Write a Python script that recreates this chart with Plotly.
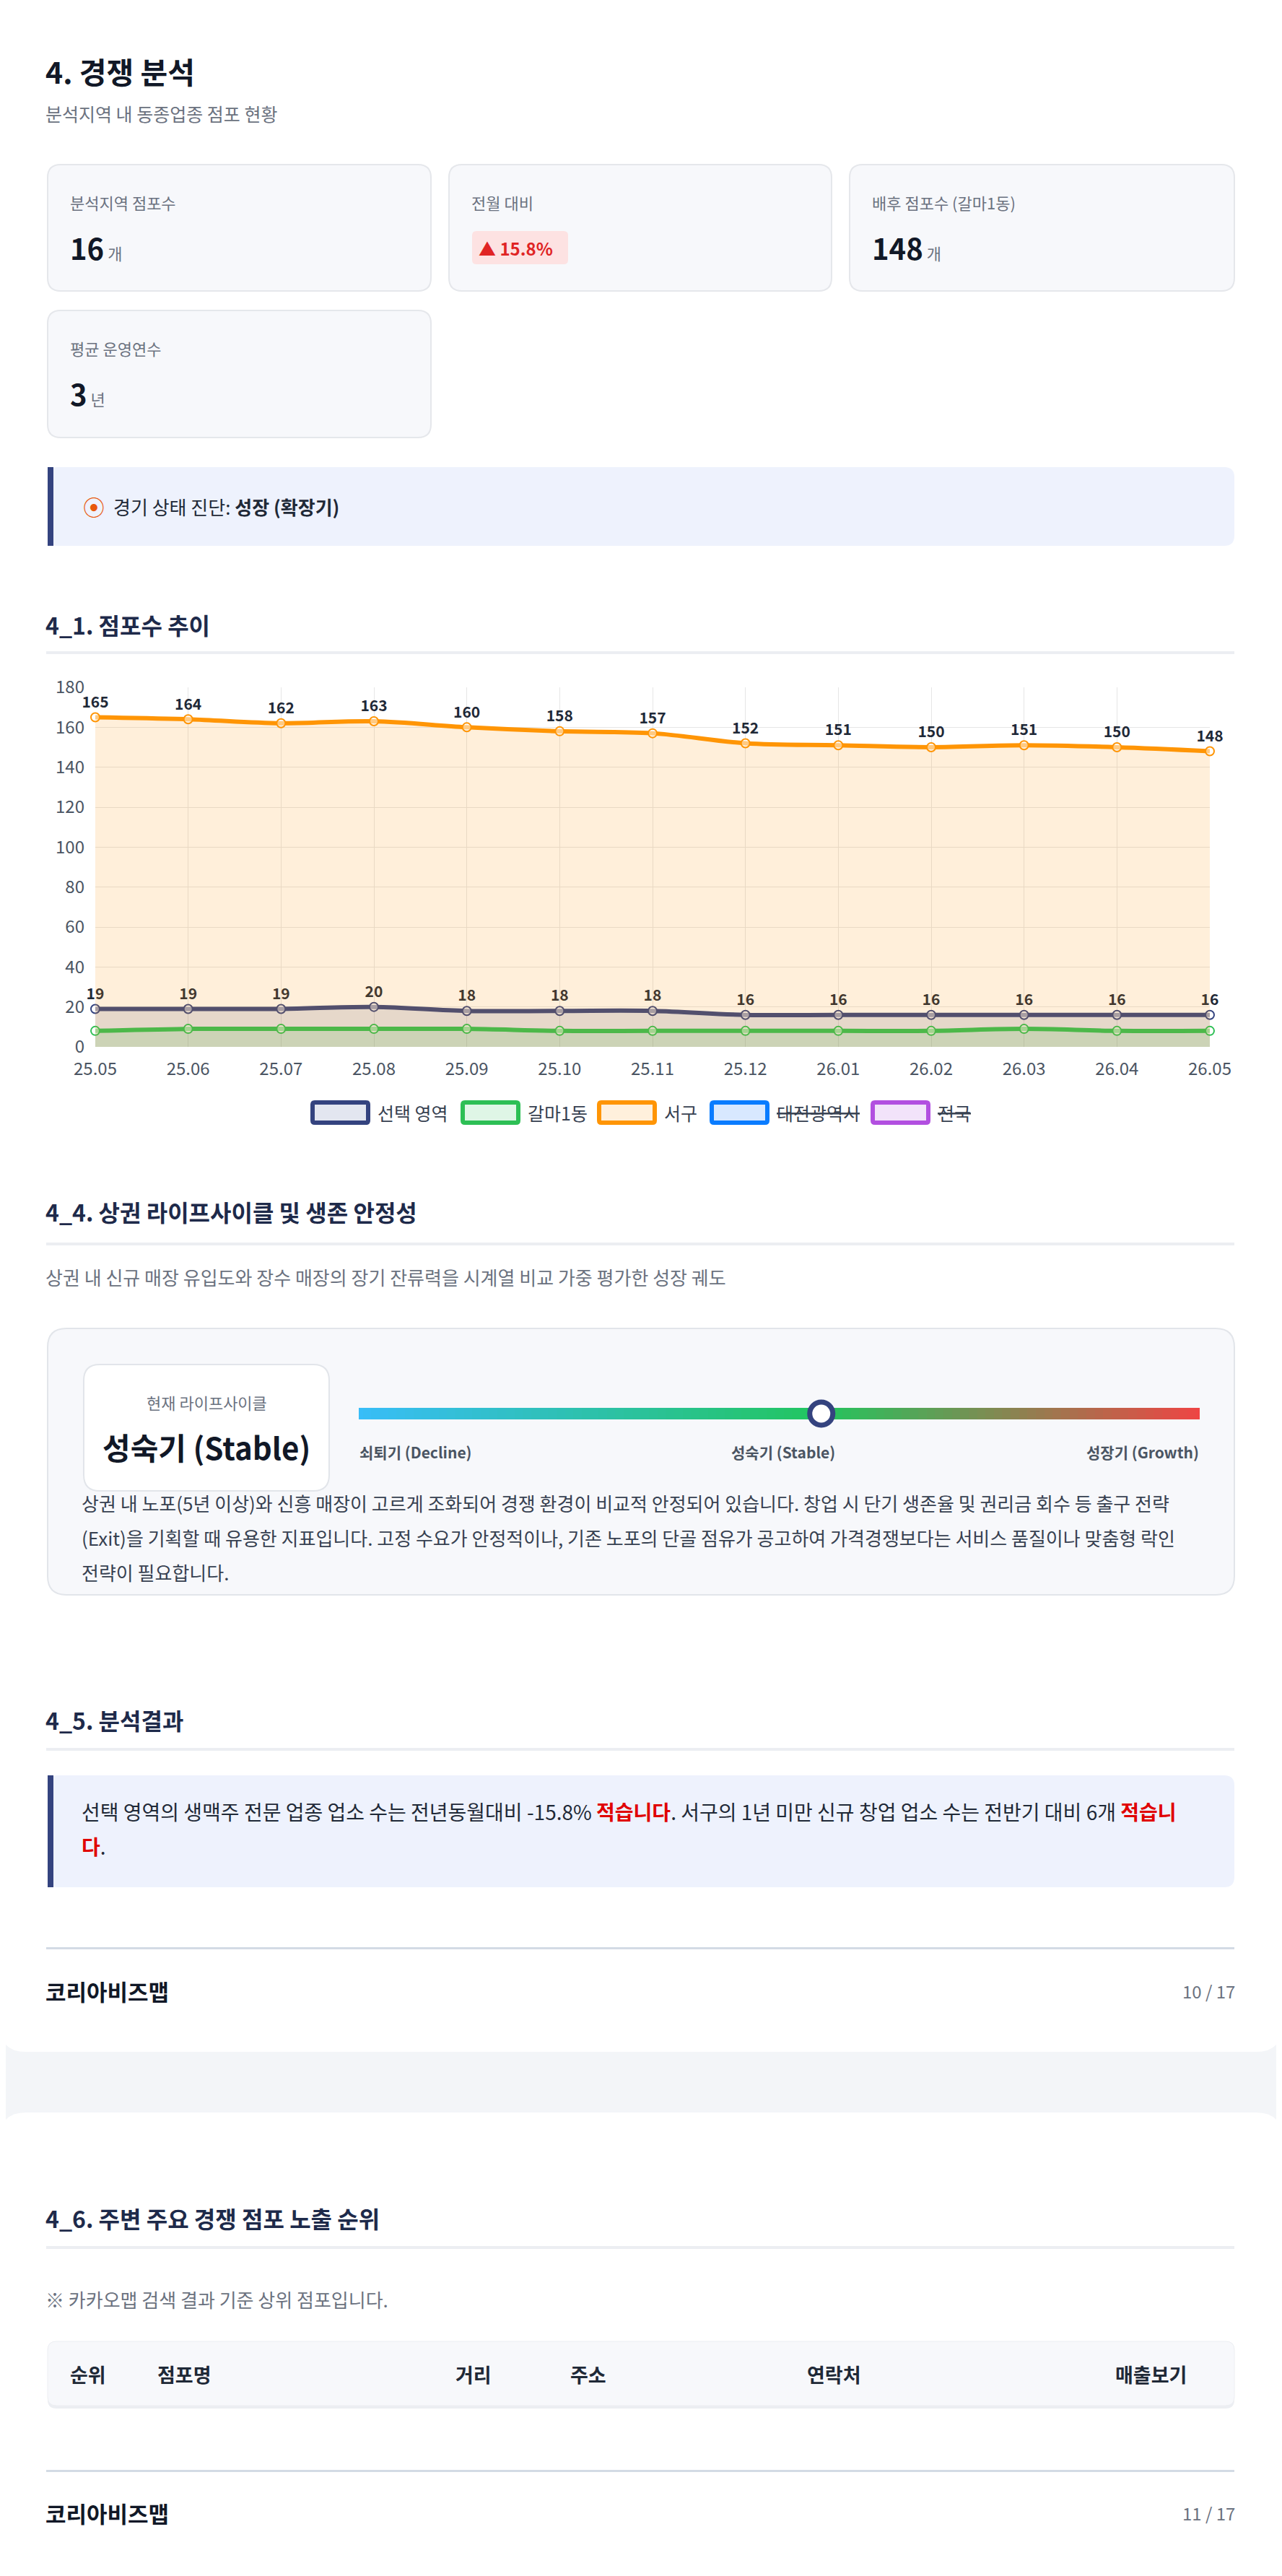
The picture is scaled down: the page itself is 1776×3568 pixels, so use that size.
import plotly.graph_objects as go

W, H = 1776, 3568
OFF = 8  # page body margin in the browser
FONT = "Noto Sans CJK KR"

# data
months = ["25.05", "25.06", "25.07", "25.08", "25.09", "25.10", "25.11",
          "25.12", "26.01", "26.02", "26.03", "26.04", "26.05"]
selected = [19, 19, 19, 20, 18, 18, 18, 16, 16, 16, 16, 16, 16]
galma1 = [8, 9, 9, 9, 9, 8, 8, 8, 8, 8, 9, 8, 8]
seogu = [165, 164, 162, 163, 160, 158, 157, 152, 151, 150, 151, 150, 148]
legend_names = ["선택 영역", "갈마1동", "서구", "대전광역시", "전국"]
legend_hidden = [False, False, False, True, True]
kpi_labels = ["분석지역 점포수", "전월 대비", "배후 점포수 (갈마1동)", "평균 운영연수"]
kpi_values = ["16", "15.8%", "148", "3"]
kpi_units = ["개", "", "개", "년"]
stage_labels = ["쇠퇴기 (Decline)", "성숙기 (Stable)", "성장기 (Growth)"]
stage_pos = 0.55
table_cols = ["순위", "점포명", "거리", "주소", "연락처", "매출보기"]

fig = go.Figure()
shapes = []
ann = []


def px_(x):
    return (x - OFF) / W


def py(y):
    return 1 - (y - OFF) / H


def rrect(x0, y0, x1, y1, r, fill, line="rgba(0,0,0,0)", lw=0):
    p = (f"M{x0+r},{y0} L{x1-r},{y0} Q{x1},{y0} {x1},{y0+r} L{x1},{y1-r} Q{x1},{y1} {x1-r},{y1} "
         f"L{x0+r},{y1} Q{x0},{y1} {x0},{y1-r} L{x0},{y0+r} Q{x0},{y0} {x0+r},{y0} Z")
    shapes.append(dict(type="path", path=p, xref="x", yref="y", fillcolor=fill,
                       line=dict(color=line, width=lw), layer="below"))


def rect(x0, y0, x1, y1, fill):
    shapes.append(dict(type="rect", x0=x0, x1=x1, y0=y0, y1=y1, xref="x", yref="y",
                       fillcolor=fill, line=dict(width=0), layer="below"))


def text(x, y, s, size=26, color="#1f2937", anchor="left", bold=False):
    if bold:
        s = f"<b>{s}</b>"
    ann.append(dict(x=x, y=y, xref="x", yref="y", text=s, showarrow=False, xanchor=anchor,
                    yanchor="middle", borderpad=0, font=dict(family=FONT, size=size, color=color)))


# page cards
rrect(0, -40, 1776, 2842, 36, "white")
rrect(0, 2926, 1776, 3640, 36, "white")

text(62, 98, "4. 경쟁 분석", 41, "#111827", bold=True)
text(62, 157, "분석지역 내 동종업종 점포 현황", 25, "#6b7280")

# KPI cards
boxes = [(66, 228, 597, 403), (622, 228, 1152, 403), (1177, 228, 1710, 403), (66, 430, 597, 606)]
for (x0, y0, x1, y1), lab, val, unit in zip(boxes, kpi_labels, kpi_values, kpi_units):
    rrect(x0, y0, x1, y1, 18, "#f7f8fb", "#e5e7eb", 2)
    text(x0 + 30, y0 + 52, lab, 22, "#6b7280")
    if unit:
        text(x0 + 30, y0 + 115, f"<b>{val}</b><span style='font-size:22px;color:#6b7280'> {unit}</span>", 40, "#111827")
    else:
        rrect(x0 + 32, y0 + 92, x0 + 165, y0 + 138, 6, "#fde2e2")
        text(x0 + 40, y0 + 115, f"▲ {val}", 24, "#e02424", bold=True)

# diagnosis box
rrect(66, 647, 1710, 756, 14, "#eef2fd")
rect(66, 647, 74, 756, "#34437f")
text(130, 701, "⦿", 30, "#e8590c", "center")
text(156, 701, "경기 상태 진단: <b>성장 (확장기)</b>", 26, "#1f2937")

# section 4_1
text(62, 865, "4_1. 점포수 추이", 32, "#1e2a4a", bold=True)
rect(64, 902, 1710, 906, "#eceef2")

# chart
series = [(selected, "#34437f", "rgba(52,67,127,0.14)", True),
          (galma1, "#2dbf55", "rgba(45,191,85,0.16)", False),
          (seogu, "#ff9505", "rgba(255,149,5,0.15)", True)]
for (vals, c, f, lab), name in zip(series, legend_names):
    fig.add_trace(go.Scatter(
        x=months, y=vals, name=name, xaxis="x2", yaxis="y2", mode="lines+markers+text",
        line=dict(color=c, width=6, shape="spline"), fill="tozeroy", fillcolor=f,
        marker=dict(size=12, color="rgba(255,255,255,0.5)", line=dict(color=c, width=2)),
        text=[str(v) if lab else "" for v in vals], textposition="top center", cliponaxis=False,
        showlegend=False,
        textfont=dict(family=FONT, size=21, color="#1f2937", weight="bold")))

# legend (drawn by hand, with wide boxes)
leg_colors = [("#34437f", "#e3e6f0"), ("#2dbf55", "#dff6e6"), ("#ff9505", "#fff0dc"),
              ("#0a7cff", "#d8e8ff"), ("#b24fe0", "#f2e3fa")]
leg_x = [430, 638, 827, 983, 1206]
for name, hid, (c, f), lx in zip(legend_names, legend_hidden, leg_colors, leg_x):
    rrect(lx + 3, 1527, lx + 80, 1555, 3, f, c, 6)
    text(lx + 92, 1541, f"<s>{name}</s>" if hid else name, 25, "#374151")

# lifecycle
text(62, 1678, "4_4. 상권 라이프사이클 및 생존 안정성", 32, "#1e2a4a", bold=True)
rect(64, 1721, 1710, 1725, "#eceef2")
text(62, 1768, "상권 내 신규 매장 유입도와 장수 매장의 장기 잔류력을 시계열 비교 가중 평가한 성장 궤도", 26, "#6b7280")
rrect(66, 1840, 1710, 2209, 26, "#f7f8fb", "#e2e5ea", 2)
rrect(116, 1890, 456, 2065, 22, "white", "#e2e5ea", 2)
text(286, 1942, "현재 라이프사이클", 22, "#6b7280", "center")
text(286, 2003, "성숙기 (Stable)", 42, "#111827", "center", bold=True)

fig.add_trace(go.Heatmap(z=[[i / 100 for i in range(101)]], x=[i / 100 for i in range(101)], y=[0],
                         xaxis="x3", yaxis="y3", showscale=False, hoverinfo="skip", showlegend=False,
                         colorscale=[[0, "#38bdf8"], [0.55, "#22c55e"], [1, "#ef4444"]]))
fig.add_trace(go.Scatter(x=[stage_pos], y=[0], xaxis="x3", yaxis="y3", mode="markers", showlegend=False,
                         marker=dict(size=32, color="white", line=dict(color="#34437f", width=7)),
                         hoverinfo="skip", cliponaxis=False))
for lab, xx, anc in zip(stage_labels, [497, 1085, 1662], ["left", "center", "right"]):
    text(xx, 2011, lab, 21, "#4b5563", anc, bold=True)
para = ["상권 내 노포(5년 이상)와 신흥 매장이 고르게 조화되어 경쟁 환경이 비교적 안정되어 있습니다. 창업 시 단기 생존율 및 권리금 회수 등 출구 전략",
        "(Exit)을 기획할 때 유용한 지표입니다. 고정 수요가 안정적이나, 기존 노포의 단골 점유가 공고하여 가격경쟁보다는 서비스 품질이나 맞춤형 락인",
        "전략이 필요합니다."]
for i, line in enumerate(para):
    text(112, 2081 + 48 * i, line, 26, "#374151")

# 4_5
text(62, 2382, "4_5. 분석결과", 32, "#1e2a4a", bold=True)
rect(64, 2421, 1710, 2425, "#eceef2")
rrect(66, 2459, 1710, 2614, 14, "#eef2fd")
rect(66, 2459, 74, 2614, "#34437f")
RED = "<span style='color:#e00000'><b>{}</b></span>"
text(112, 2509, "선택 영역의 생맥주 전문 업종 업소 수는 전년동월대비 -15.8% " + RED.format("적습니다")
     + ". 서구의 1년 미만 신규 창업 업소 수는 전반기 대비 6개 " + RED.format("적습니"), 28, "#1f2937")
text(112, 2557, RED.format("다") + ".", 28, "#1f2937")

rect(64, 2697, 1710, 2700, "#d3dbe5")
text(62, 2757, "코리아비즈맵", 31, "#111827", bold=True)
text(1712, 2757, "10 / 17", 24, "#6b7280", "right")

# 4_6
text(62, 3072, "4_6. 주변 주요 경쟁 점포 노출 순위", 32, "#1e2a4a", bold=True)
rect(64, 3111, 1710, 3115, "#eceef2")
text(62, 3184, "※ 카카오맵 검색 결과 기준 상위 점포입니다.", 26, "#6b7280")
rrect(66, 3246, 1710, 3336, 12, "#eceef2")
rrect(66, 3243, 1710, 3332, 12, "#f7f8fb", "#eceef2", 1)
for col, xx in zip(table_cols, [96, 217, 656, 815, 1155, 1594]):
    text(xx, 3288, col, 27, "#1f2937", "left" if col in ("순위", "점포명") else "center", bold=True)
rect(64, 3421, 1710, 3424, "#d3dbe5")
text(62, 3480, "코리아비즈맵", 31, "#111827", bold=True)
text(1712, 3480, "11 / 17", 24, "#6b7280", "right")

fig.update_layout(
    width=W, height=H, margin=dict(l=0, r=0, t=0, b=0, pad=0, autoexpand=False),
    paper_bgcolor="#f3f5f8", plot_bgcolor="rgba(0,0,0,0)",
    font=dict(family=FONT), showlegend=False,
    xaxis=dict(range=[OFF, W + OFF], domain=[0, 1], visible=False, fixedrange=True, automargin=False),
    yaxis=dict(range=[H + OFF, OFF], domain=[0, 1], visible=False, fixedrange=True, automargin=False),
    xaxis2=dict(domain=[px_(132), px_(1676)], anchor="y2", type="category", range=[0, 12],
                showgrid=True, gridcolor="#e6e6e6", tickfont=dict(size=24, color="#4b5563"),
                ticks="", zeroline=False, showline=False, automargin=False, ticklabelstandoff=14),
    yaxis2=dict(domain=[py(1450), py(952)], anchor="x2", range=[0, 180], dtick=20,
                showgrid=True, gridcolor="#e6e6e6", tickfont=dict(size=24, color="#4b5563"),
                zeroline=False, ticks="", automargin=False, ticklabelstandoff=14),
    xaxis3=dict(domain=[px_(497), px_(1662)], anchor="y3", range=[0, 1], visible=False, automargin=False),
    yaxis3=dict(domain=[py(1966), py(1950)], anchor="x3", range=[-0.5, 0.5], visible=False, automargin=False),
    shapes=shapes, annotations=ann,
)

fig.write_html("out.html")
